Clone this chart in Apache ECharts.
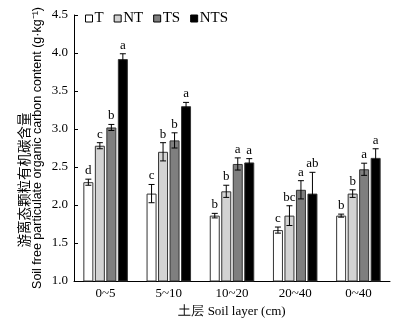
<!DOCTYPE html>
<html><head><meta charset="utf-8">
<script src="https://cdn.jsdelivr.net/npm/echarts@6/dist/echarts.min.js"></script>
<style>html,body{margin:0;padding:0;background:#fff}#c{width:399px;height:323px}</style>
</head><body><div id="c"></div>
<script>
const categories = ['0~5','5~10','10~20','20~40','0~40'];
const seriesNames = ['T','NT','TS','NTS'];
const valT   = [2.30, 2.15, 1.86, 1.67, 1.86];
const valNT  = [2.78, 2.70, 2.18, 1.86, 2.15];
const valTS  = [3.02, 2.85, 2.54, 2.20, 2.47];
const valNTS = [3.92, 3.30, 2.56, 2.15, 2.62];
const errT   = [0.04, 0.12, 0.03, 0.04, 0.02];
const errNT  = [0.04, 0.12, 0.08, 0.13, 0.05];
const errTS  = [0.04, 0.10, 0.08, 0.12, 0.08];
const errNTS = [0.07, 0.05, 0.05, 0.28, 0.12];
const letT   = ['d','c','b','c','b'];
const letNT  = ['c','b','b','bc','b'];
const letTS  = ['b','b','a','a','a'];
const letNTS = ['a','a','a','ab','a'];
const yTicks = ['1.0','1.5','2.0','2.5','3.0','3.5','4.0','4.5'];
const yNameCN = '游离态颗粒有机碳含量';
const yNameEN = 'Soil free particulate organic carbon content (g·kg⁻¹)';

const vals = [valT, valNT, valTS, valNTS];
const errs = [errT, errNT, errTS, errNTS];
const lets = [letT, letNT, letTS, letNTS];
const fills = ['#ffffff', '#d3d3d3', '#7f7f7f', '#000000'];
const font = 'Liberation Serif, Times New Roman, serif';
const BW = 10, GAP = 1.5;

const series = [];
seriesNames.forEach((n, i) => {
  series.push({
    name: n, type: 'bar', data: vals[i], barWidth: BW, barGap: '15%', barCategoryGap: '32%',
    itemStyle: { color: fills[i], borderColor: '#333', borderWidth: 1 }
  });
});
seriesNames.forEach((n, i) => {
  series.push({
    type: 'custom', silent: true, z: 10,
    data: vals[i].map((v, k) => [k, v, errs[i][k]]),
    renderItem: function (params, api) {
      const k = api.value(0), v = api.value(1), e = api.value(2);
      const off = (i - 1.5) * (BW + GAP);
      const c = api.coord([k, v]);
      const hi = api.coord([k, v + e]);
      const lo = api.coord([k, v - e]);
      const x = c[0] + off;
      const cw = 3;
      const st = { stroke: '#000', lineWidth: 1 };
      return { type: 'group', children: [
        { type: 'line', shape: { x1: x, y1: hi[1], x2: x, y2: lo[1] }, style: st },
        { type: 'line', shape: { x1: x - cw, y1: hi[1], x2: x + cw, y2: hi[1] }, style: st },
        { type: 'line', shape: { x1: x - cw, y1: lo[1], x2: x + cw, y2: lo[1] }, style: st },
        { type: 'text', x: x, y: hi[1] - 2, style: { text: lets[i][k], fill: '#000', font: '13px ' + font, align: 'center', verticalAlign: 'bottom' } }
      ]};
    }
  });
});

const chart = echarts.init(document.getElementById('c'), null, { renderer: 'canvas' });
chart.setOption({
  animation: false,
  backgroundColor: '#fff',
  textStyle: { fontFamily: font },
  legend: {
    data: seriesNames, left: 80, top: 6, itemWidth: 7, itemHeight: 7, itemGap: 10,
    icon: 'rect',
    itemStyle: { borderColor: '#000', borderWidth: 1 },
    textStyle: { fontFamily: font, fontSize: 15, color: '#000', padding: [0, 0, 0, -3] }
  },
  graphic: [{
    type: 'text', x: 24, y: 180, rotation: Math.PI / 2,
    style: { text: yNameCN, fill: '#000', font: '13.5px "Noto Sans CJK SC"', align: 'center', verticalAlign: 'middle' }
  }],
  grid: { left: 74, right: 9, top: 15, bottom: 39, containLabel: false },
  xAxis: {
    type: 'category', data: categories,
    name: '土层 Soil layer (cm)', nameLocation: 'middle', nameGap: 24,
    nameTextStyle: { fontFamily: font, fontSize: 13, color: '#000' },
    axisLine: { lineStyle: { color: '#000', width: 1 } },
    axisTick: { inside: true, length: 4, lineStyle: { color: '#000' } },
    axisLabel: { fontFamily: font, fontSize: 13, color: '#000', margin: 6 }
  },
  yAxis: {
    type: 'value', min: 1.0, max: 4.5, interval: 0.5,
    name: yNameEN,
    nameLocation: 'middle', nameGap: 36, nameRotate: 90, nameMoveOverlap: false,
    nameTextStyle: { color: '#000', fontFamily: 'Liberation Sans, Arial, sans-serif', fontSize: 12.5, verticalAlign: 'middle' },
    splitLine: { show: false },
    axisLine: { show: true, lineStyle: { color: '#000', width: 1 } },
    axisTick: { show: true, inside: true, length: 4, lineStyle: { color: '#000' } },
    axisLabel: { fontFamily: font, fontSize: 13, color: '#000', margin: 6,
      formatter: (v) => yTicks[Math.round((v - 1) / 0.5)] }
  },
  series: series
});
</script></body></html>
